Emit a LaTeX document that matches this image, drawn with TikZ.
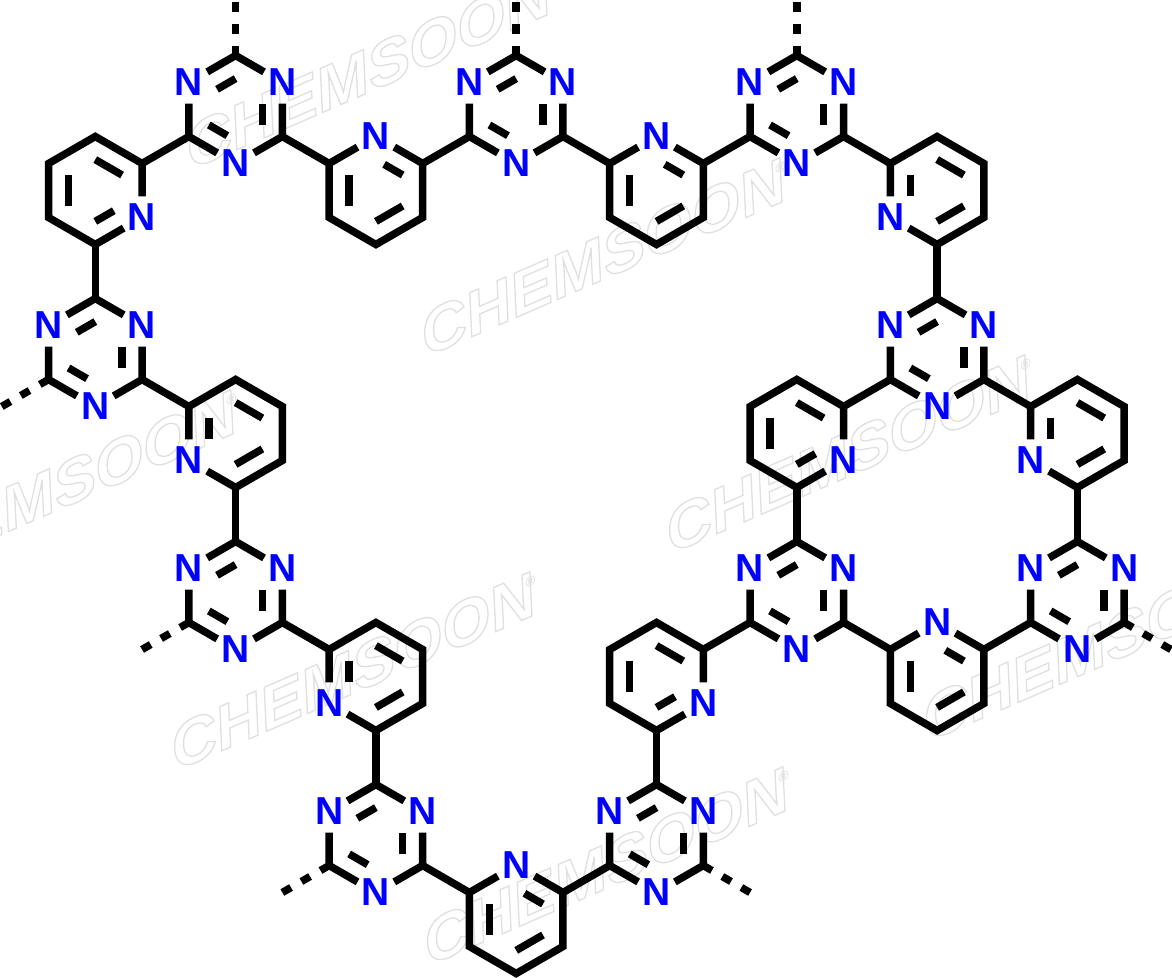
\documentclass[tikz,border=0pt]{standalone}
\usepackage{fontspec}
\setmainfont{Liberation Sans}
\newfontfamily\wmfont[FakeSlant=0.38,FakeStretch=1.12]{Liberation Sans}
\usetikzlibrary{calc}
\definecolor{nblue}{RGB}{0,0,255}
\tikzset{
  bond/.style={draw=black,line width=7.5pt,line cap=butt,line join=miter},
  free/.style={bond,dash pattern=on 10pt off 12pt},
  atom/.style={circle,inner sep=0pt,minimum size=42pt,text=nblue,
    font=\fontsize{39}{39}\selectfont\bfseries},
  wmark/.style={anchor=base west,rotate=23.5,inner sep=0pt,
    font=\wmfont\fontsize{60}{60}\selectfont\bfseries}
}
% six vertices of a ring, named by position
\newcommand{\hexat}[3]{%
  \coordinate (#1-c)  at (#2,#3);
  \coordinate (#1-t)  at (#2,#3-54);
  \coordinate (#1-ur) at (#2+46.77,#3-27);
  \coordinate (#1-lr) at (#2+46.77,#3+27);
  \coordinate (#1-b)  at (#2,#3+54);
  \coordinate (#1-ll) at (#2-46.77,#3+27);
  \coordinate (#1-ul) at (#2-46.77,#3-27);
}
\newcommand{\nat}[2]{\node[atom] (#1-#2) at (#1-#2) {N};}
% inner line of a double bond, between two carbons
\newcommand{\dblcc}[3]{\draw[bond] ($(#1-c)!.5724!(#1-#2)$) -- ($(#1-c)!.5724!(#1-#3)$);}
% inner line of a double bond, carbon to nitrogen
\newcommand{\dblcn}[3]{\draw[bond] ($(#1-c)!.5724!(#1-#2)$) --
   ($($(#1-c)!.5724!(#1-#3)$)!9.5pt!($(#1-c)!.5724!(#1-#2)$)$);}
\newcommand{\ringpath}[7]{\draw[bond] (#1-#2) -- (#1-#3) -- (#1-#4) -- (#1-#5) -- (#1-#6) -- (#1-#7) -- (#1-#2);}
\newcommand{\triaz}[3]{%
  \hexat{#1}{#2}{#3}\nat{#1}{ul}\nat{#1}{ur}\nat{#1}{b}
  \ringpath{#1}{ul}{t}{ur}{lr}{b}{ll}
  \dblcn{#1}{t}{ul}\dblcn{#1}{lr}{ur}\dblcn{#1}{ll}{b}}
\newcommand{\pyrtop}[3]{%
  \hexat{#1}{#2}{#3}\nat{#1}{t}
  \ringpath{#1}{t}{ur}{lr}{b}{ll}{ul}
  \dblcn{#1}{ur}{t}\dblcc{#1}{ul}{ll}\dblcc{#1}{lr}{b}}
\newcommand{\pyrleft}[3]{%
  \hexat{#1}{#2}{#3}\nat{#1}{ll}
  \ringpath{#1}{ll}{ul}{t}{ur}{lr}{b}
  \dblcc{#1}{t}{ur}\dblcn{#1}{ul}{ll}\dblcc{#1}{lr}{b}}
\newcommand{\pyrright}[3]{%
  \hexat{#1}{#2}{#3}\nat{#1}{lr}
  \ringpath{#1}{lr}{b}{ll}{ul}{t}{ur}
  \dblcc{#1}{t}{ur}\dblcc{#1}{ul}{ll}\dblcn{#1}{b}{lr}}
\newcommand{\wm}[3]{\node[wmark] (#1) at (#2,#3) {%
  \special{pdf:literal direct 1 Tr 1.3 w 0.88 0.88 0.88 RG}CHEMSOON%
  \special{pdf:literal direct 0 Tr 0 w}\textcolor[gray]{0.88}{\raisebox{28pt}{\kern1pt\fontsize{13}{13}\selectfont ®}}};}
\begin{document}
\begin{tikzpicture}[x=1pt,y=-1pt]
\useasboundingbox (0,0) rectangle (1172,977);
\fill[white] (0,0) rectangle (1172,977);
\begin{scope}
\clip (0,0) rectangle (1172,977);
\wm{wmA}{188}{171}
\wm{wmB}{423}{358}
\wm{wmC}{668}{555}
\wm{wmD}{173}{772}
\wm{wmE}{426}{967}
\wm{wmF}{-126}{590}
\wm{wmG}{925}{743}
\end{scope}
% triazines
\triaz{Ta}{235.6}{109.5}
\triaz{Tb}{516.2}{109.5}
\triaz{Tc}{796.8}{109.5}
\triaz{Td}{95.3}{352.5}
\triaz{Te}{235.6}{595.5}
\triaz{Tf}{375.9}{838.5}
\triaz{Tg}{656.5}{838.5}
\triaz{Th}{796.8}{595.5}
\triaz{Ti}{937.1}{352.5}
\triaz{Tj}{1077.4}{595.5}
% pyridines
\pyrright{Pa}{95.3}{190.5}
\pyrtop{Pb}{375.9}{190.5}
\pyrtop{Pc}{656.5}{190.5}
\pyrleft{Pd}{937.1}{190.5}
\pyrleft{Pe}{235.6}{433.5}
\pyrleft{Pf}{375.9}{676.5}
\pyrtop{Pg}{516.2}{919.5}
\pyrright{Ph}{656.5}{676.5}
\pyrright{Pi}{796.8}{433.5}
\pyrleft{Pj}{1077.4}{433.5}
\pyrtop{Pk}{937.1}{676.5}
% ring-to-ring bonds
\draw[bond] (Ta-ll) -- (Pa-ur);
\draw[bond] (Ta-lr) -- (Pb-ul);
\draw[bond] (Tb-ll) -- (Pb-ur);
\draw[bond] (Tb-lr) -- (Pc-ul);
\draw[bond] (Tc-ll) -- (Pc-ur);
\draw[bond] (Tc-lr) -- (Pd-ul);
\draw[bond] (Pa-b) -- (Td-t);
\draw[bond] (Td-lr) -- (Pe-ul);
\draw[bond] (Pe-b) -- (Te-t);
\draw[bond] (Te-lr) -- (Pf-ul);
\draw[bond] (Pf-b) -- (Tf-t);
\draw[bond] (Tf-lr) -- (Pg-ul);
\draw[bond] (Tg-ll) -- (Pg-ur);
\draw[bond] (Tg-t) -- (Ph-b);
\draw[bond] (Ph-ur) -- (Th-ll);
\draw[bond] (Th-t) -- (Pi-b);
\draw[bond] (Pi-ur) -- (Ti-ll);
\draw[bond] (Ti-t) -- (Pd-b);
\draw[bond] (Ti-lr) -- (Pj-ul);
\draw[bond] (Pj-b) -- (Tj-t);
\draw[bond] (Tj-ll) -- (Pk-ur);
\draw[bond] (Th-lr) -- (Pk-ul);
% open (dashed) ends
\coordinate (xa) at ($(Ta-t)+(0,-54)$);
\coordinate (xb) at ($(Tb-t)+(0,-54)$);
\coordinate (xc) at ($(Tc-t)+(0,-54)$);
\coordinate (xd) at ($(Td-ll)+(-46.77,27)$);
\coordinate (xe) at ($(Te-ll)+(-46.77,27)$);
\coordinate (xf) at ($(Tf-ll)+(-46.77,27)$);
\coordinate (xg) at ($(Tg-lr)+(46.77,27)$);
\coordinate (xj) at ($(Tj-lr)+(46.77,27)$);
\draw[free] (Ta-t) -- (xa);
\draw[free] (Tb-t) -- (xb);
\draw[free] (Tc-t) -- (xc);
\draw[free] (Td-ll) -- (xd);
\draw[free] (Te-ll) -- (xe);
\draw[free] (Tf-ll) -- (xf);
\draw[free] (Tg-lr) -- (xg);
\draw[free] (Tj-lr) -- (xj);
\end{tikzpicture}
\end{document}
